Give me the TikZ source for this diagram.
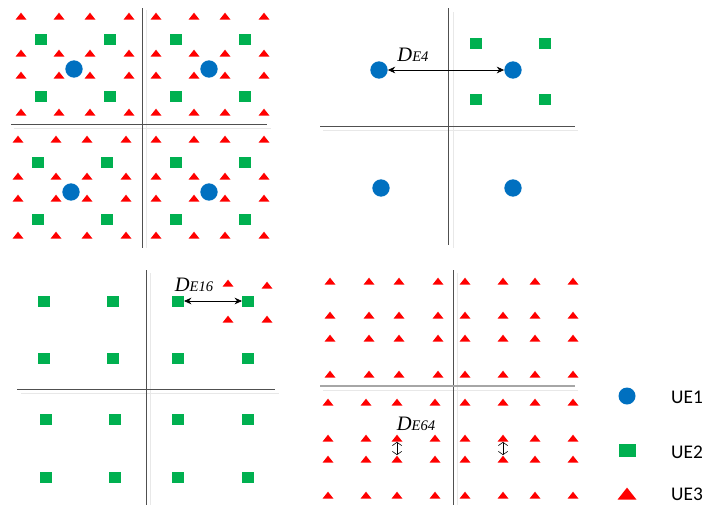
\documentclass[tikz,border=0pt]{standalone}
\usepackage{fontspec}
\setmainfont{Liberation Serif}
\newfontfamily\legendfont{Carlito}
\usetikzlibrary{arrows.meta, shapes.geometric}
\definecolor{ueblue}{RGB}{0,112,192}
\definecolor{uegreen}{RGB}{0,176,80}
\definecolor{uered}{RGB}{255,0,0}
\definecolor{axisgray}{RGB}{80,80,80}

\tikzset{
  ue1/.style={circle, fill=ueblue, inner sep=0pt, minimum size=5.2mm},
  ue2/.style={rectangle, fill=uegreen, inner sep=0pt, minimum width=3.5mm, minimum height=3.3mm},
  ue3/.style={isosceles triangle, isosceles triangle stretches, shape border rotate=90,
              fill=uered, inner sep=0pt, minimum width=3.3mm, minimum height=2.1mm},
  axis/.style={axisgray, line width=0.8pt},
  shade line/.style={gray!18, line width=0.8pt},
  dist/.style={{Stealth[length=2.2mm,width=2mm]}-{Stealth[length=2.2mm,width=2mm]}, line width=0.6pt},
  smalldist/.style={{Straight Barb[length=1mm,width=2.8mm]}-{Straight Barb[length=1mm,width=2.8mm]}, line width=0.5pt},
  dlabel/.style={font=\itshape\fontsize{17.5}{17.5}\selectfont, inner sep=0pt},
  legtext/.style={font=\legendfont\fontsize{16.5}{17}\selectfont, anchor=west, inner sep=0pt},
}

\begin{document}
\begin{tikzpicture}[x=0.3mm, y=-0.3mm]
\useasboundingbox (0,0) rectangle (705,506);

% Panneau (a) : UE1, UE2 et UE3
\draw[shade line] (146,10) -- (146,248);
\draw[shade line] (14,128) -- (271,128);
\draw[axis] (142,8) -- (142,248);
\draw[axis] (11,124) -- (267,124);
\foreach \qx/\qy [count=\q] in {0/0, 135/0, -3/123, 135/123} {
  \foreach \x [count=\i] in {21,59,90,129}
    \foreach \y [count=\j] in {17,54,76,113}
      \node[ue3] (a\q-t\i\j) at (\qx+\x,\qy+\y) {};
  \foreach \x [count=\i] in {41,110}
    \foreach \y [count=\j] in {39,96}
      \node[ue2] (a\q-s\i\j) at (\qx+\x,\qy+\y) {};
  \node[ue1] (a\q-c) at (\qx+74,\qy+69) {};
}

% Panneau (b) : UE1 seul
\draw[shade line] (453,12) -- (453,248);
\draw[shade line] (323,130) -- (578,130);
\draw[axis] (448,8) -- (448,245);
\draw[axis] (320,126) -- (575,126);
\node[ue1] (b-c1) at (379,70) {};
\node[ue1] (b-c2) at (513,70) {};
\node[ue1] (b-c3) at (381,188) {};
\node[ue1] (b-c4) at (513,188) {};
\foreach \x [count=\i] in {476,545}
  \foreach \y [count=\j] in {43,99}
    \node[ue2] (b-s\i\j) at (\x,\y) {};
\draw[dist] (b-c1) -- (b-c2);
\node[dlabel] (b-lab) at (413,55) {D{\fontsize{12.5}{12.5}\selectfont E4}};

% Panneau (c) : UE2
\draw[shade line] (150,273) -- (150,505);
\draw[shade line] (21,393) -- (279,393);
\draw[axis] (146,270) -- (146,505);
\draw[axis] (17,389) -- (275,389);
\foreach \x [count=\i] in {44,113,178,248}
  \foreach \y [count=\j] in {301,358}
    \node[ue2] (c-s\i\j) at (\x,\y) {};
\foreach \x [count=\i] in {46,115,178,248}
  \foreach \y [count=\j] in {419,477}
    \node[ue2] (c-b\i\j) at (\x,\y) {};
\foreach \x/\y [count=\i] in {228/284, 267/286, 228/320, 267/320}
  \node[ue3] (c-t\i) at (\x,\y) {};
\draw[dist] (c-s31) -- (c-s41);
\node[dlabel] (c-lab) at (194,285) {D{\fontsize{12.5}{12.5}\selectfont E16}};

% Panneau (d) : UE3
\draw[shade line] (457,273) -- (457,505);
\draw[shade line] (323,390) -- (578,390);
\draw[axis] (453,270) -- (453,505);
\draw[gray!70, line width=1.4pt] (320,386) -- (575,386);
\foreach \x [count=\i] in {330,369,399,438,465,503,535,573}
  \foreach \y [count=\j] in {282,316,339,375}
    \node[ue3] (d-u\i\j) at (\x,\y) {};
\foreach \x [count=\i] in {328,366,397,435,465,503,535,573}
  \foreach \y [count=\j] in {403,439,460,496}
    \node[ue3] (d-l\i\j) at (\x,\y) {};
\draw[smalldist] (d-l32) -- (d-l33);
\draw[smalldist] (d-l62) -- (d-l63);
\node[dlabel] (d-lab) at (416,424) {D{\fontsize{12.5}{12.5}\selectfont E64}};

% Légende
\node[ue1, minimum size=5.1mm] (leg1) at (627,396) {};
\node[ue2, minimum width=5.1mm, minimum height=3.9mm] (leg2) at (627,450) {};
\node[ue3, minimum width=5.7mm, minimum height=3.6mm] (leg3) at (627,495) {};
\node[legtext] (leg1-text) at (671,397) {UE1};
\node[legtext] (leg2-text) at (671,452) {UE2};
\node[legtext] (leg3-text) at (671,494) {UE3};

\end{tikzpicture}
\end{document}
